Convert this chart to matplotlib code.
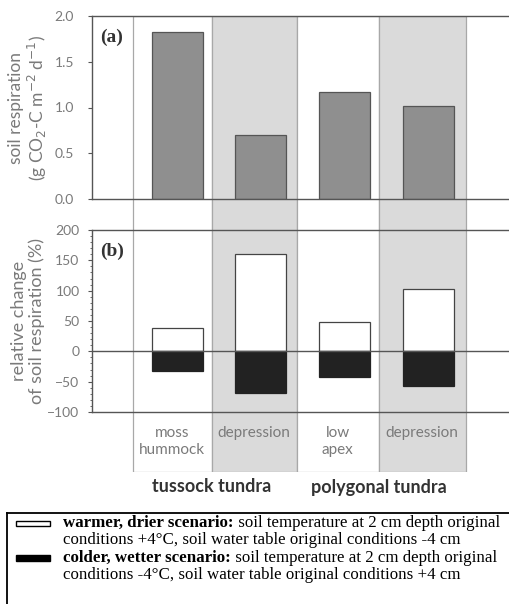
import numpy as np
import matplotlib.pyplot as plt
from matplotlib.patches import Rectangle
from matplotlib.ticker import MultipleLocator

plt.rcParams['font.family'] = ['Lato', 'DejaVu Sans']
serif = ['Liberation Serif', 'DejaVu Serif']

# data
sites = ['moss\nhummock', 'depression', 'low\napex', 'depression']
groups = ['tussock tundra', 'polygonal tundra']
respiration = [1.82, 0.70, 1.17, 1.02]        # g CO2-C m-2 d-1
warmer_drier = [39, 161, 48, 102]             # % change
colder_wetter = [-32, -68, -42, -57]          # % change

x = np.arange(1, len(sites) + 1)
col_edges = [0.47, 1.41, 2.43, 3.41, 4.45]
shaded = [False, True, False, True]
xlim = (-0.02, 4.98)

W, H = 510, 604
fig = plt.figure(figsize=(W / 100, H / 100), dpi=100)

def box(left, top, right, bottom):
    return [left / W, 1 - bottom / H, (right - left) / W, (bottom - top) / H]

line_c = '#555555'
text_c = '#7a7a7a'

# background columns spanning both panels and the site labels
ax_bg = fig.add_axes(box(92, 16, 510, 472), zorder=0)
ax_bg.set_xlim(*xlim)
ax_bg.set_ylim(0, 1)
ax_bg.axis('off')
for i in range(len(sites)):
    ax_bg.add_patch(Rectangle((col_edges[i], 0), col_edges[i + 1] - col_edges[i], 1,
                              facecolor='#dadada' if shaded[i] else 'white',
                              edgecolor='#a8a8a8', linewidth=0.9))
    ax_bg.text((col_edges[i] + col_edges[i + 1]) / 2, 0.1, sites[i],
               ha='center', va='top', fontsize=11, color=text_c, linespacing=1.25)

# group labels
for gx, g in zip([col_edges[1], col_edges[3]], groups):
    fig.text((92 + (gx - xlim[0]) / (xlim[1] - xlim[0]) * 418) / W, 1 - 487 / H, g,
             ha='center', va='center', fontsize=13, fontweight='bold', color='#333333')

def style(ax, pad):
    ax.set_facecolor('none')
    ax.set_xlim(*xlim)
    ax.set_xticks([])
    ax.spines['right'].set_visible(False)
    for s in ['left', 'top', 'bottom']:
        ax.spines[s].set_color(line_c)
        ax.spines[s].set_linewidth(1.0)
    ax.tick_params(axis='y', colors=line_c, labelcolor=text_c, labelsize=10,
                   length=3, width=0.8, pad=pad)

# panel (a)
ax_a = fig.add_axes(box(92, 16, 510, 199), zorder=1)
style(ax_a, 10)
ax_a.bar(x, respiration, width=0.61, color='#8f8f8f', edgecolor='#555555', linewidth=0.9)
ax_a.set_ylim(0, 2.0)
ax_a.set_yticks(np.arange(0, 2.01, 0.5))
ax_a.set_yticklabels([f'{v:.1f}' for v in np.arange(0, 2.01, 0.5)])
ax_a.set_ylabel('soil respiration\n(g CO$_2$-C m$^{-2}$ d$^{-1}$)', fontsize=12.5,
                color=text_c, labelpad=4, linespacing=1.1)
ax_a.text(0.02, 0.93, '(a)', transform=ax_a.transAxes, fontsize=14, family=serif,
          fontweight='bold', color='#333333', va='top', ha='left')

# panel (b)
ax_b = fig.add_axes(box(92, 230, 510, 412), zorder=1)
style(ax_b, 6)
ax_b.bar(x, warmer_drier, width=0.61, color='white', edgecolor='#444444', linewidth=0.9)
ax_b.bar(x, colder_wetter, width=0.61, color='#222222', edgecolor='#222222', linewidth=0.9)
ax_b.axhline(0, color=line_c, linewidth=1.0)
ax_b.set_ylim(-100, 200)
ax_b.set_yticks(np.arange(-100, 201, 50))
ax_b.yaxis.set_minor_locator(MultipleLocator(10))
ax_b.tick_params(axis='y', which='minor', length=1.5, width=0.6, colors=line_c)
ax_b.set_ylabel('relative change\nof soil respiration (%)', fontsize=13,
                color=text_c, labelpad=2, linespacing=1.05)
ax_b.text(0.02, 0.93, '(b)', transform=ax_b.transAxes, fontsize=14, family=serif,
          fontweight='bold', color='#333333', va='top', ha='left')

# legend box
ax_l = fig.add_axes(box(7, 513, 512, 606), zorder=1)
ax_l.set_xlim(7, 512)
ax_l.set_ylim(606, 513)
ax_l.set_xticks([])
ax_l.set_yticks([])
for s in ['right', 'bottom']:
    ax_l.spines[s].set_visible(False)
for s in ['left', 'top']:
    ax_l.spines[s].set_color('black')
    ax_l.spines[s].set_linewidth(1.3)

ax_l.add_patch(Rectangle((16, 520.5), 34, 5, facecolor='white', edgecolor='black', linewidth=1.0))
ax_l.add_patch(Rectangle((16, 555), 34, 6, facecolor='black', edgecolor='black', linewidth=1.0))

legend_rows = [
    ('warmer, drier scenario:', ' soil temperature at 2 cm depth original', 523),
    ('colder, wetter scenario:', ' soil temperature at 2 cm depth original', 558),
]
legend_second = [
    ('conditions +4\u00b0C, soil water table original conditions -4 cm', 540),
    ('conditions -4\u00b0C, soil water table original conditions +4 cm', 575),
]
for bold, rest, y in legend_rows:
    t = ax_l.text(63, y, bold, fontsize=12.2, fontweight='bold', family=serif,
                  va='center', ha='left')
    ax_l.annotate(rest, xy=(1, 0), xycoords=t, va='bottom', ha='left',
                  fontsize=12.2, family=serif)
for txt, y in legend_second:
    ax_l.text(63, y, txt, fontsize=12.2, family=serif, va='center', ha='left')

fig.savefig('out.png', dpi=100)
